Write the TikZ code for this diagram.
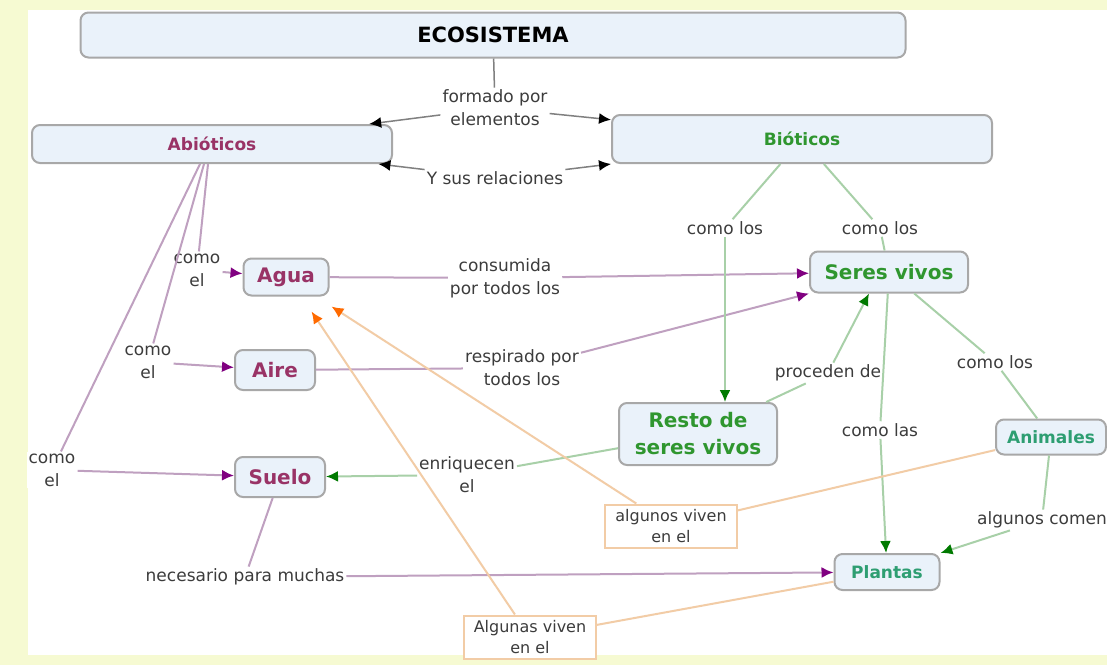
\documentclass[tikz,border=0pt]{standalone}
\usepackage{fontspec}
\setmainfont{DejaVu Sans}
\usetikzlibrary{arrows.meta}
\definecolor{framey}{HTML}{F6FAD2}
\definecolor{conceptfill}{HTML}{EAF2FA}
\definecolor{boxgray}{HTML}{A8A8A8}
\definecolor{abiotext}{HTML}{993366}
\definecolor{biotext}{HTML}{2F962F}
\definecolor{tealtext}{HTML}{2E9E72}
\definecolor{linkgray}{HTML}{3C3C3C}
\definecolor{purpline}{HTML}{BFA0C0}
\definecolor{purptip}{HTML}{800080}
\definecolor{greenline}{HTML}{A8D0A8}
\definecolor{greentip}{HTML}{007A00}
\definecolor{orangeline}{HTML}{F2CCA6}
\definecolor{orangetip}{HTML}{FF6A00}
\tikzset{
  concept/.style={draw=boxgray, fill=conceptfill, rounded corners=8pt, line width=2pt,
    font=\fontsize{20}{27}\selectfont\bfseries, align=center, inner sep=2pt},
  linkword/.style={fill=white, text=linkgray, font=\fontsize{17}{23}\selectfont,
    align=center, inner sep=2pt},
  orangebox/.style={draw=orangeline, fill=white, line width=2pt, text=linkgray,
    font=\fontsize{16}{21}\selectfont, align=center, minimum width=132pt, minimum height=43pt, inner sep=1pt},
  blackline/.style={draw=gray, line width=1.5pt, -{Latex[length=12pt,width=11pt,color=black]}},
  purpline/.style={draw=purpline, line width=2pt},
  purparrow/.style={purpline, -{Latex[length=12pt,width=11pt,color=purptip]}},
  greenline/.style={draw=greenline, line width=2pt},
  greenarrow/.style={greenline, -{Latex[length=12pt,width=11pt,color=greentip]}},
  orangeline/.style={draw=orangeline, line width=2pt},
  orangearrow/.style={orangeline, -{Latex[length=12pt,width=11pt,color=orangetip]}},
}
\begin{document}
\begin{tikzpicture}[x=1pt, y=-1pt]
  \useasboundingbox (0,0) rectangle (1107,665);
  \fill [framey] (0,0) rectangle (1107,665);
  \fill [white] (28,10) rectangle (1107,655);

  \node [concept, font=\fontsize{21}{27}\selectfont\bfseries, minimum width=825pt, minimum height=45pt] (eco) at (493,35) {ECOSISTEMA};
  \node [concept, text=abiotext, font=\fontsize{17}{22}\selectfont\bfseries, minimum width=360pt, minimum height=38pt] (aby) at (212,144) {Abióticos};
  \node [concept, text=biotext, font=\fontsize{17}{22}\selectfont\bfseries, minimum width=380pt, minimum height=48pt] (bio) at (802,139) {Bióticos};

  \node [linkword] (formado) at (495,108) {formado por\\elementos};
  \node [linkword] (relac) at (495,178) {Y sus relaciones};

  \node [concept, text=abiotext, minimum width=85pt, minimum height=37pt] (agua) at (286,277) {Agua};
  \node [concept, text=abiotext, minimum width=80pt, minimum height=40pt] (aire) at (275,370) {Aire};
  \node [concept, text=abiotext, minimum width=90pt, minimum height=40pt] (suelo) at (280,477) {Suelo};
  \node [linkword] (comoel1) at (197,270) {como\\el};
  \node [linkword] (comoel2) at (148,362) {como\\el};
  \node [linkword] (comoel3) at (52,470) {como\\el};

  \node [concept, text=biotext, minimum width=158pt, minimum height=41pt] (seres) at (889,272) {Seres vivos};
  \node [concept, text=biotext, minimum width=158pt, minimum height=62pt] (resto) at (698,434) {Resto de\\seres vivos};
  \node [concept, text=tealtext, font=\fontsize{17}{22}\selectfont\bfseries, minimum width=110pt, minimum height=35pt] (anim) at (1051,437) {Animales};
  \node [concept, text=tealtext, font=\fontsize{17}{22}\selectfont\bfseries, minimum width=105pt, minimum height=36pt] (plantas) at (887,572) {Plantas};

  \node [linkword] (consum) at (505,278) {consumida\\por todos los};
  \node [linkword] (respir) at (522,368) {respirado por\\todos los};
  \node [linkword] (comolos1) at (725,228) {como los};
  \node [linkword] (comolos2) at (880,228) {como los};
  \node [linkword] (proced) at (828,373) {proceden de};
  \node [linkword] (comolas) at (880,430) {como las};
  \node [linkword] (comolos3) at (995,362) {como los};
  \node [linkword] (algcomen) at (1042,520) {algunos comen};
  \node [linkword] (enriq) at (467,475) {enriquecen\\el};
  \node [linkword] (necesa) at (245,577) {necesario para muchas};

  \node [orangebox] (viven1) at (671,526) {algunos viven\\en el};
  \node [orangebox] (viven2) at (530,637) {Algunas viven\\en el};

  \draw [draw=gray, line width=1.5pt] (eco) -- (formado);
  \draw [blackline] (formado) -- (aby);
  \draw [blackline] (formado) -- (bio);
  \draw [blackline] (relac) -- (aby);
  \draw [blackline] (relac) -- (bio.south west);

  \draw [purpline] ([xshift=-4pt]aby.south) -- (comoel1);
  \draw [purpline] ([xshift=-8pt]aby.south) -- (comoel2);
  \draw [purpline] ([xshift=-12pt]aby.south) -- (comoel3);
  \draw [purparrow] (comoel1) -- (agua);
  \draw [purparrow] (comoel2) -- (aire);
  \draw [purparrow] (comoel3) -- (suelo);

  \draw [purpline] (agua) -- (consum);
  \draw [purparrow] (consum) -- (seres);
  \draw [purpline] (aire) -- (respir);
  \draw [purparrow] (respir) -- (seres.south west);
  \draw [purpline] (suelo) -- (necesa);
  \draw [purparrow] (necesa) -- (plantas);

  \draw [greenline] (bio) -- (comolos1);
  \draw [greenarrow] (comolos1) -- (resto.north -| comolos1);
  \draw [greenline] (bio) -- (comolos2);
  \draw [greenline] (comolos2) -- (seres);
  \draw [greenline] (resto) -- (proced);
  \draw [greenarrow] (proced) -- ([xshift=-20pt]seres.south);
  \draw [greenline] (seres) -- (comolas);
  \draw [greenarrow] (comolas) -- (plantas);
  \draw [greenline] (seres) -- (comolos3);
  \draw [greenline] (comolos3) -- (anim);
  \draw [greenline] (anim) -- (algcomen);
  \draw [greenarrow] (algcomen) -- (plantas.north east);
  \draw [greenline] (resto) -- (enriq);
  \draw [greenarrow] (enriq) -- (suelo);

  \draw [orangeline] (anim) -- (viven1);
  \draw [orangearrow] (viven1) -- ([xshift=2pt,yshift=-10pt]agua.south east);
  \draw [orangeline] (plantas) -- (viven2);
  \draw [orangearrow] (viven2) -- ([xshift=-18pt,yshift=-15pt]agua.south east);
\end{tikzpicture}
\end{document}
